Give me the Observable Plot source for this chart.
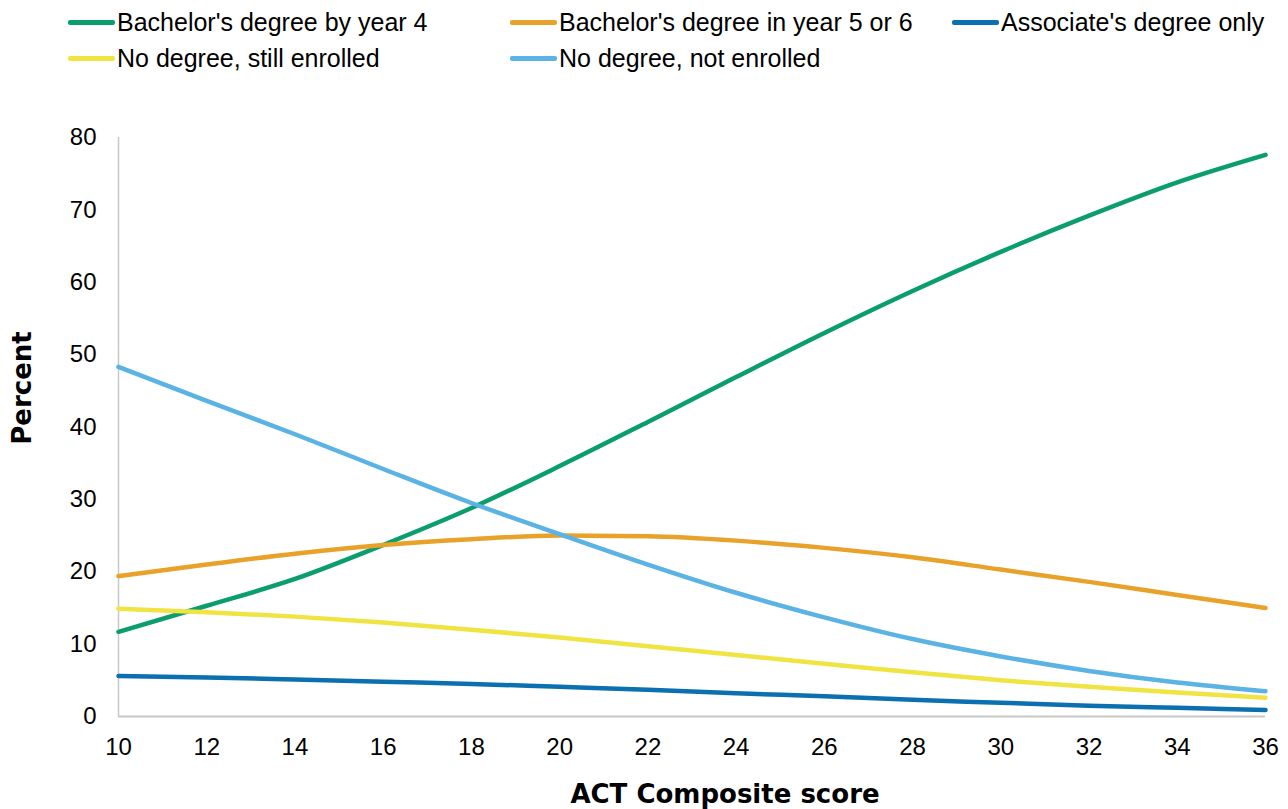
<!DOCTYPE html>
<html>
<head>
<meta charset="utf-8">
<script src="https://cdn.jsdelivr.net/npm/d3@7"></script>
<script src="https://cdn.jsdelivr.net/npm/@observablehq/plot@0.6"></script>
<style>
  body { margin: 0; background: #fff; font-family: "Liberation Sans", Arial, sans-serif; }
  #wrap { position: relative; width: 1288px; height: 809px; overflow: hidden; }
  .leg { position: absolute; display: flex; align-items: center; font-size: 25px; color: #000; white-space: nowrap; }
  .sw { width: 47px; height: 5px; border-radius: 2px; margin-right: 2px; }
  #chart { position: absolute; left: 0; top: 80px; }
</style>
</head>
<body>
<div id="wrap">
  <div id="legend"></div>
  <div id="chart"></div>
</div>
<script>
const scores = [10, 12, 14, 16, 18, 20, 22, 24, 26, 28, 30, 32, 34, 36];
const seriesNames = [
  "Bachelor's degree by year 4",
  "Bachelor's degree in year 5 or 6",
  "Associate's degree only",
  "No degree, still enrolled",
  "No degree, not enrolled"
];
const colors = ["#0a9e6e", "#e8a22a", "#0b6fb0", "#f0e442", "#5bb3e4"];
const bachelor4 = [11.7, 15.3, 19.0, 23.7, 28.8, 34.6, 40.7, 46.9, 53.0, 58.8, 64.2, 69.2, 73.8, 77.6];
const bachelor56 = [19.4, 21.0, 22.5, 23.7, 24.5, 25.0, 24.9, 24.3, 23.3, 22.0, 20.3, 18.6, 16.8, 15.0];
const associate = [5.6, 5.4, 5.1, 4.8, 4.5, 4.1, 3.7, 3.2, 2.8, 2.3, 1.9, 1.5, 1.2, 0.9];
const stillEnrolled = [14.9, 14.4, 13.8, 13.0, 12.0, 10.9, 9.7, 8.5, 7.3, 6.1, 5.0, 4.1, 3.3, 2.6];
const notEnrolled = [48.3, 43.6, 39.0, 34.2, 29.5, 25.2, 21.0, 17.1, 13.7, 10.7, 8.3, 6.3, 4.7, 3.5];
const xTicks = [10, 12, 14, 16, 18, 20, 22, 24, 26, 28, 30, 32, 34, 36];
const yTicks = [0, 10, 20, 30, 40, 50, 60, 70, 80];

const seriesValues = [bachelor4, bachelor56, associate, stillEnrolled, notEnrolled];
const data = [];
seriesNames.forEach((name, i) => {
  scores.forEach((s, j) => data.push({series: name, score: s, value: seriesValues[i][j]}));
});

// legend
const legendPos = [
  {left: 68, top: 22}, {left: 510, top: 22}, {left: 952, top: 22},
  {left: 68, top: 58}, {left: 510, top: 58}
];
const legend = document.getElementById("legend");
seriesNames.forEach((name, i) => {
  const d = document.createElement("div");
  d.className = "leg";
  d.style.left = legendPos[i].left + "px";
  d.style.top = (legendPos[i].top - 14) + "px";
  d.style.height = "28px";
  const sw = document.createElement("div");
  sw.className = "sw";
  sw.style.background = colors[i];
  d.appendChild(sw);
  const t = document.createElement("span");
  t.textContent = name;
  d.appendChild(t);
  legend.appendChild(d);
});

const W = 1288, H = 729;
const chart = Plot.plot({
  width: W,
  height: H,
  marginLeft: 118,
  marginRight: 23,
  marginTop: 57,
  marginBottom: 93,
  style: {fontFamily: "'Liberation Sans', Arial, sans-serif", fontSize: "24px", color: "#000", background: "#fff"},
  x: {domain: [10, 36], ticks: xTicks, label: null, tickSize: 0, tickPadding: 21},
  y: {domain: [0, 80], ticks: yTicks, label: null, tickSize: 0, tickPadding: 22},
  color: {domain: seriesNames, range: colors},
  marks: [
    Plot.ruleX([10], {stroke: "#c8c8c8", strokeWidth: 1.5}),
    Plot.ruleY([0], {stroke: "#c8c8c8", strokeWidth: 2}),
    Plot.lineY(data, {x: "score", y: "value", z: "series", stroke: "series", strokeWidth: 4.5, curve: "monotone-x"})
  ]
});
document.getElementById("chart").appendChild(chart);

const svg = d3.select(chart);
svg.append("text")
  .attr("x", 725).attr("y", 723)
  .attr("text-anchor", "middle")
  .attr("font-size", 26).attr("font-weight", "bold")
  .attr("font-family", "'DejaVu Sans', sans-serif")
  .attr("fill", "#000")
  .text("ACT Composite score");
svg.append("text")
  .attr("transform", "translate(31, 308) rotate(-90)")
  .attr("text-anchor", "middle")
  .attr("font-size", 26).attr("font-weight", "bold")
  .attr("font-family", "'DejaVu Sans', sans-serif")
  .attr("fill", "#000")
  .text("Percent");
</script>
</body>
</html>
